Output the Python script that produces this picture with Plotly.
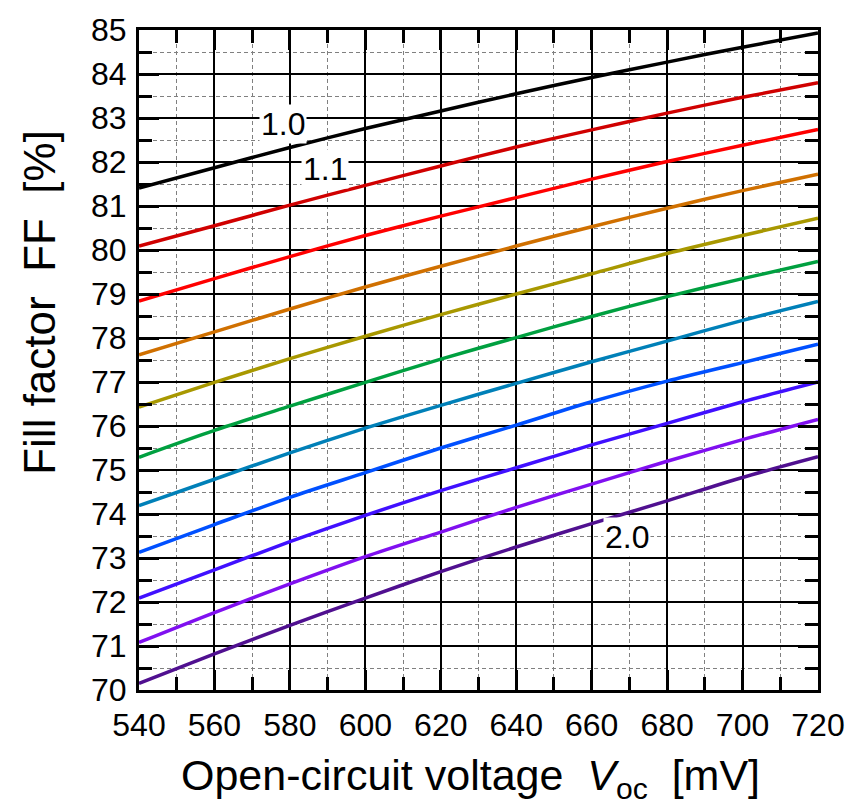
import plotly.graph_objects as go

# Open-circuit voltage grid [mV]
voc_mv = [540, 560, 580, 600, 620, 640, 660, 680, 700, 720]

# Fill factor [%] for each diode ideality factor n
ff_n10 = [81.41, 81.87, 82.33, 82.76, 83.16, 83.55, 83.92, 84.27, 84.61, 84.93]
ff_n11 = [80.09, 80.55, 81.02, 81.47, 81.91, 82.34, 82.73, 83.11, 83.47, 83.80]
ff_n12 = [78.84, 79.35, 79.85, 80.33, 80.77, 81.19, 81.61, 82.01, 82.38, 82.74]
ff_n13 = [77.62, 78.14, 78.66, 79.16, 79.63, 80.09, 80.53, 80.95, 81.35, 81.72]
ff_n14 = [76.43, 76.99, 77.53, 78.04, 78.53, 79.00, 79.46, 79.92, 80.33, 80.72]
ff_n15 = [75.29, 75.90, 76.45, 76.99, 77.52, 78.01, 78.49, 78.94, 79.35, 79.74]
ff_n16 = [74.19, 74.79, 75.39, 75.95, 76.47, 76.97, 77.46, 77.93, 78.40, 78.83]
ff_n17 = [73.13, 73.76, 74.38, 74.94, 75.50, 76.02, 76.55, 77.02, 77.44, 77.86]
ff_n18 = [72.09, 72.73, 73.37, 73.97, 74.53, 75.05, 75.57, 76.06, 76.55, 77.00]
ff_n19 = [71.08, 71.76, 72.41, 73.03, 73.59, 74.15, 74.68, 75.20, 75.69, 76.15]
ff_n20 = [70.15, 70.82, 71.47, 72.09, 72.69, 73.25, 73.78, 74.30, 74.83, 75.30]

ideality = ["1.0", "1.1", "1.2", "1.3", "1.4", "1.5", "1.6", "1.7", "1.8", "1.9", "2.0"]
series = [ff_n10, ff_n11, ff_n12, ff_n13, ff_n14, ff_n15,
          ff_n16, ff_n17, ff_n18, ff_n19, ff_n20]
colors = ["#000000", "#d00000", "#ff0000", "#d07000", "#a89800", "#00a040",
          "#0080b8", "#0050ff", "#4010ff", "#8010f0", "#501090"]

# Curve labels: (text, Voc, FF)
curve_labels = [("1.0", 578.3, 82.86), ("1.1", 589.4, 81.85), ("2.0", 669.4, 73.48)]

FONT = "Liberation Sans, Arial, sans-serif"

fig = go.Figure()
for name, ff, col in zip(ideality, series, colors):
    fig.add_trace(go.Scatter(
        x=voc_mv, y=ff, mode="lines", name="n = " + name,
        line=dict(color=col, width=3.5, shape="spline", smoothing=0.8),
        showlegend=False,
    ))

for text, xv, yv in curve_labels:
    fig.add_annotation(
        x=xv, y=yv, xref="x", yref="y", text=text, showarrow=False,
        font=dict(family=FONT, size=32, color="black"),
        bgcolor="white", borderpad=1,
    )

axis_common = dict(
    showline=True, linecolor="black", linewidth=3, mirror="allticks",
    ticks="inside", tickcolor="black", tickwidth=2.5, ticklen=20,
    showgrid=True, gridcolor="black", gridwidth=1.8,
    zeroline=False,
    tickfont=dict(family=FONT, size=32, color="black"),
)

fig.update_xaxes(
    range=[540, 720], tick0=540, dtick=20,
    minor=dict(dtick=10, ticks="inside", ticklen=13, tickwidth=2.5, tickcolor="black",
               showgrid=True, gridcolor="#808080", gridwidth=1, griddash="4px,3px"),
    ticklabelstandoff=5,
    **axis_common,
)
fig.update_yaxes(
    range=[70, 85], tick0=70, dtick=1,
    minor=dict(dtick=0.5, ticks="inside", ticklen=13, tickwidth=2.5, tickcolor="black",
               showgrid=True, gridcolor="#808080", gridwidth=1, griddash="4px,3px"),
    ticklabelstandoff=3,
    **axis_common,
)

nb = "\u00a0"
fig.add_annotation(
    x=0.4875, y=-0.089, xref="paper", yref="paper", xanchor="center", yanchor="top",
    text="Open-circuit voltage" + nb * 2 + "<i>V</i><sub>oc</sub>" + nb * 2 + "[mV]",
    showarrow=False, font=dict(family=FONT, size=43, color="black"),
)
fig.add_annotation(
    x=-0.146, y=0.588, xref="paper", yref="paper", xanchor="center", yanchor="middle",
    text="Fill factor" + nb * 2 + "FF" + nb * 2 + "[%]", textangle=-90,
    showarrow=False, font=dict(family=FONT, size=44, color="black"),
)

fig.update_layout(
    width=862, height=808,
    margin=dict(l=139, r=44, t=22, b=118),
    paper_bgcolor="white", plot_bgcolor="white",
)

fig.write_html("out.html")
